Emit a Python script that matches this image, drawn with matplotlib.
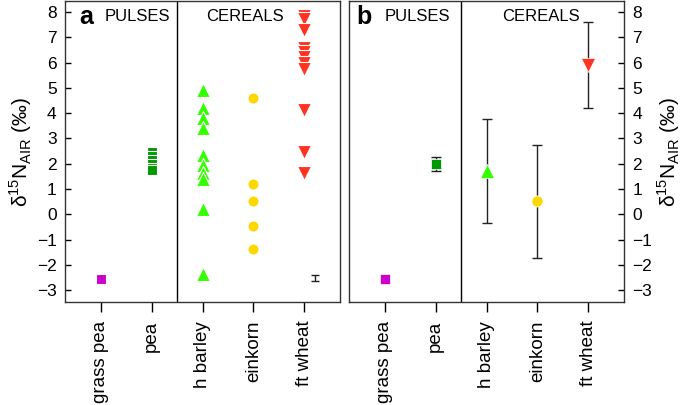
import numpy as np
import matplotlib
matplotlib.use("Agg")
import matplotlib.pyplot as plt

plt.rcParams['font.family'] = ['Liberation Sans', 'DejaVu Sans']
plt.rcParams['mathtext.fontset'] = 'custom'
plt.rcParams['mathtext.rm'] = 'Liberation Sans'

# categories
cats = ['grass pea', 'pea', 'h barley', 'einkorn', 'ft wheat']

# panel a: individual measurements
grass_pea = [-2.57]
pea = [2.45, 2.3, 2.15, 2.0, 1.85, 1.75]
h_barley = [4.9, 4.22, 3.82, 3.42, 2.34, 1.95, 1.62, 1.4, 0.25, 0.2, -2.35]
einkorn = [4.61, 1.2, 0.52, -0.46, -1.36]
ft_wheat = [7.85, 7.72, 7.28, 6.56, 6.4, 6.2, 6.0, 5.75, 4.11, 2.47, 1.62]
# analytical error shown in panel a
err_a_val = -2.5
err_a_size = 0.12

# panel b: means and standard deviations
means_b = [-2.57, 2.0, 1.72, 0.52, 5.9]
sd_b = [0.0, 0.28, 2.05, 2.24, 1.7]

colors = ['#cc00cc', '#009900', '#33ff00', '#ffd700', '#ff3322']
markers = ['s', 's', '^', 'o', 'v']
msizes = [7, 7, 9.5, 8, 9.5]

fig = plt.figure(figsize=(6.85, 4.05), dpi=100)
axa = fig.add_axes([65/685, 1-302/405, 275/685, 301/405])
axb = fig.add_axes([349/685, 1-302/405, 275/685, 301/405])

groups = [grass_pea, pea, h_barley, einkorn, ft_wheat]
for i, vals in enumerate(groups):
    x = np.full(len(vals), i + 1)
    axa.plot(x, vals, linestyle='none', marker=markers[i], ms=msizes[i],
             mfc=colors[i], mec='white', mew=0.8, zorder=3)
axa.errorbar([5.2], [err_a_val], yerr=[err_a_size], fmt='none', ecolor='#222222',
             elinewidth=1, capsize=3, capthick=1)

for i in range(5):
    if sd_b[i] > 0:
        axb.errorbar([i + 1], [means_b[i]], yerr=[sd_b[i]], fmt='none', ecolor='#222222',
                     elinewidth=1, capsize=3.6, capthick=1, zorder=2)
    axb.plot([i + 1], [means_b[i]], linestyle='none', marker=markers[i], ms=msizes[i],
             mfc=colors[i], mec='white', mew=0.5, zorder=3)

ylabel = r'δ$^{15}$N$_{\mathrm{AIR}}$ (‰)'
# (axes, letter, x of letter, x of PULSES, x of CEREALS) - left edges
panels = [(axa, 'a', 0.57, 1.08, 3.08), (axb, 'b', 0.45, 0.99, 3.3)]
for ax, letter, lx, px, cx in panels:
    ax.set_xlim(0.3, 5.7)
    ax.set_ylim(-3.46, 8.43)
    ax.axvline(2.5, color='black', lw=1)
    ax.set_xticks(range(1, 6))
    ax.set_xticklabels(cats, rotation=90, fontsize=13.5)
    ax.set_yticks(range(-3, 9))
    ax.tick_params(axis='x', direction='out', length=7.5, width=1, pad=6)
    ax.tick_params(axis='y', direction='in', length=4, width=1, labelsize=12.5, pad=6)
    for s in ax.spines.values():
        s.set_linewidth(1)
        s.set_color('#333333')
    ax.text(lx, 7.8, letter, fontsize=18, fontweight='bold', ha='left', va='center')
    ax.text(px, 7.8, 'PULSES', fontsize=12, ha='left', va='center')
    ax.text(cx, 7.8, 'CEREALS', fontsize=12, ha='left', va='center')
    ax.set_ylabel(ylabel, fontsize=15, labelpad=2)

axb.yaxis.tick_right()
axb.yaxis.set_label_position('right')

fig.savefig('out.png', dpi=100)
